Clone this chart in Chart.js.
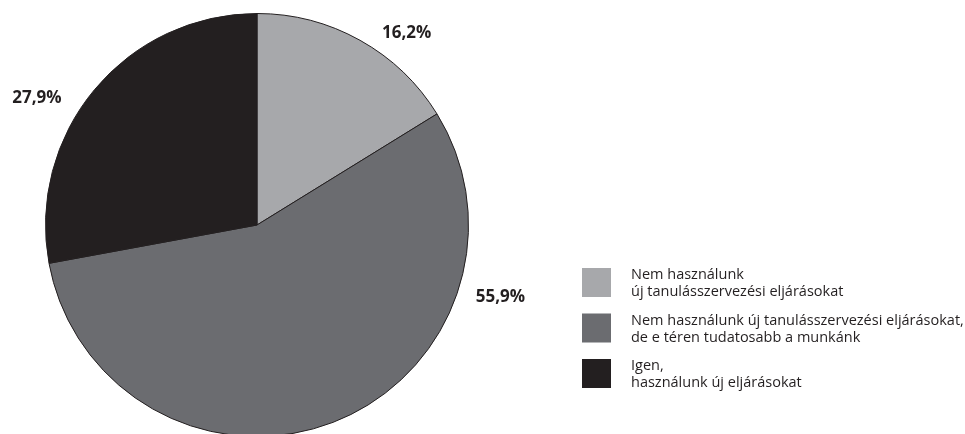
<!DOCTYPE html>
<html>
<head>
<meta charset="utf-8">
<script src="https://cdn.jsdelivr.net/npm/chart.js@4/dist/chart.umd.min.js"></script>
<style>
  body { margin: 0; background: #fff; }
  #wrap { width: 965px; height: 434px; overflow: hidden; position: relative; }
</style>
</head>
<body>
<div id="wrap"><canvas id="pieChart" width="965" height="450"></canvas></div>
<script>
// data
var categories = [
    ['Nem használunk', 'új tanulásszervezési eljárásokat'],
    ['Nem használunk új tanulásszervezési eljárásokat,', 'de e téren tudatosabb a munkánk'],
    ['Igen,', 'használunk új eljárásokat']
];
var shares = [16.2, 55.9, 27.9];
var shareLabels = ['16,2%', '55,9%', '27,9%'];

var sliceColors = ['#a7a8ab', '#6b6c70', '#231f20'];
var inkColor = '#231f20';

// where the percentage labels sit: angle from 12 o'clock (deg), distance as radius factor
var labelPlacement = [[38, 1.15], [106.4, 1.2], [299.9, 1.2]];

var pieExtras = {
    id: 'pieExtras',
    afterDraw: function(chart) {
        var ctx = chart.ctx;
        var arcs = chart.getDatasetMeta(0).data;
        ctx.save();

        // percentage labels
        ctx.fillStyle = inkColor;
        ctx.font = 'bold 17px "Open Sans", sans-serif';
        ctx.textAlign = 'center';
        ctx.textBaseline = 'middle';
        arcs.forEach(function(arc, i) {
            var a = (labelPlacement[i][0] - 90) * Math.PI / 180;
            var r = arc.outerRadius * labelPlacement[i][1];
            ctx.fillText(shareLabels[i], arc.x + Math.cos(a) * r, arc.y + Math.sin(a) * r);
        });

        // legend
        var boxX = 582, boxY = 268, box = 29, pitch = 45.5;
        ctx.font = '14.5px "Open Sans", sans-serif';
        ctx.textAlign = 'left';
        categories.forEach(function(lines, i) {
            var y = boxY + i * pitch;
            ctx.fillStyle = sliceColors[i];
            ctx.fillRect(boxX, y, box, box);
            ctx.fillStyle = inkColor;
            lines.forEach(function(t, j) {
                ctx.fillText(t, 631, y + 7 + j * 17);
            });
        });
        ctx.restore();
    }
};

var ctx = document.getElementById('pieChart').getContext('2d');
new Chart(ctx, {
    type: 'pie',
    data: {
        labels: categories.map(function(l) { return l.join(' '); }),
        datasets: [{
            data: shares,
            backgroundColor: sliceColors,
            borderColor: inkColor,
            borderWidth: 1
        }]
    },
    options: {
        responsive: false,
        animation: false,
        layout: { padding: { left: 45, top: 13, right: 496, bottom: 13 } },
        plugins: {
            legend: { display: false },
            tooltip: { enabled: false }
        }
    },
    plugins: [pieExtras]
});
</script>
</body>
</html>
